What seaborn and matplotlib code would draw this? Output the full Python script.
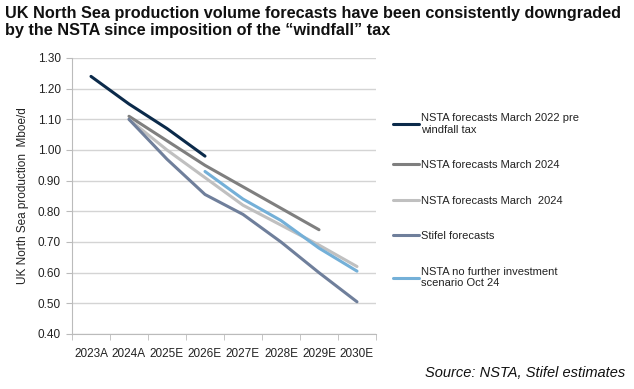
import matplotlib
matplotlib.use("Agg")
from matplotlib import pyplot as plt
import seaborn as sns
import pandas as pd

years = ["2023A", "2024A", "2025E", "2026E", "2027E", "2028E", "2029E", "2030E"]

series_names = [
    "NSTA forecasts March 2022 pre\nwindfall tax",
    "NSTA forecasts March 2024",
    "NSTA forecasts March  2024",
    "Stifel forecasts",
    "NSTA no further investment\nscenario Oct 24",
]
colors = ["#0b2a4a", "#7f7f7f", "#c0c0c0", "#6f7f9b", "#74b0d8"]

nsta_2022 = [1.24, 1.15, 1.07, 0.98, None, None, None, None]
nsta_2024 = [None, 1.11, 1.03, 0.95, 0.88, 0.81, 0.74, None]
nsta_2024b = [None, 1.10, 1.00, 0.91, 0.82, 0.755, 0.69, 0.62]
stifel = [None, 1.10, 0.97, 0.855, 0.79, 0.70, 0.60, 0.505]
nsta_no_inv = [None, None, None, 0.93, 0.84, 0.77, 0.68, 0.605]

values = [nsta_2022, nsta_2024, nsta_2024b, stifel, nsta_no_inv]

rows = []
for name, vals in zip(series_names, values):
    for i, v in enumerate(vals):
        if v is not None:
            rows.append({"series": name, "pos": i, "value": v})
df = pd.DataFrame(rows)

sns.set_style("white")
plt.rcParams["font.family"] = ["Liberation Sans", "DejaVu Sans"]

fig = plt.figure(figsize=(6.34, 3.89), dpi=100)
ax = fig.add_axes([72 / 634, 1 - 334 / 389, 304 / 634, 276 / 389])

sns.lineplot(data=df, x="pos", y="value", hue="series", hue_order=series_names,
             palette=colors, linewidth=2.2, ax=ax, legend=True)

ax.set_xlim(-0.5, 7.5)
ax.set_ylim(0.40, 1.30)
ax.set_yticks([0.4 + 0.1 * i for i in range(10)])
ax.set_yticklabels([f"{0.4 + 0.1 * i:.2f}" for i in range(10)], fontsize=8.5, color="#222222")
ax.set_xticks(range(len(years)))
ax.set_xticklabels(years, fontsize=8.5, color="#222222")
ax.set_xticks([i - 0.5 for i in range(len(years) + 1)], minor=True)
ax.tick_params(axis="x", which="major", length=0, pad=10)
ax.tick_params(axis="x", which="minor", length=4, color="#bbbbbb", direction="out", bottom=True)
ax.tick_params(axis="y", length=4, color="#bbbbbb", left=True, pad=4)
ax.yaxis.grid(True, color="#d4d4d4", linewidth=1)
ax.set_axisbelow(True)
for s in ["top", "right"]:
    ax.spines[s].set_visible(False)
for s in ["left", "bottom"]:
    ax.spines[s].set_color("#bbbbbb")
ax.set_xlabel("")
ax.set_ylabel("UK North Sea production  Mboe/d", fontsize=8.5, color="#222222", labelpad=6)

leg = ax.legend(loc="upper left", bbox_to_anchor=(393 / 634, 1 - 113 / 389),
                bbox_transform=fig.transFigure, frameon=False, fontsize=8,
                handlelength=2.3, handletextpad=0.2, labelspacing=2.3,
                borderaxespad=0, borderpad=0)
for t in leg.get_texts():
    t.set_color("#222222")

fig.text(5 / 634, 1 - 6 / 389,
         "UK North Sea production volume forecasts have been consistently downgraded\n"
         "by the NSTA since imposition of the \u201cwindfall\u201d tax",
         ha="left", va="top", fontsize=11.7, fontweight="bold", color="#111111",
         linespacing=1.15)
fig.text(625 / 634, 1 - 373 / 389, "Source: NSTA, Stifel estimates", ha="right",
         va="center", fontsize=10.5, style="italic", color="#111111")

fig.savefig("out.png", dpi=100)
